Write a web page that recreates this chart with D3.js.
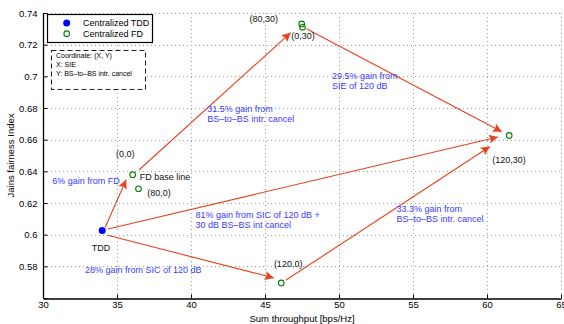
<!DOCTYPE html>
<html>
<head>
<meta charset="utf-8">
<script src="https://cdn.jsdelivr.net/npm/d3@7"></script>
<style>
  body { margin: 0; background: #fff; }
  text { font-family: "Liberation Sans", Arial, sans-serif; }
</style>
</head>
<body>
<div id="chart"></div>
<script>
// points: name, sum throughput, Jain's index
const tddPoints = [{ id: "TDD", x: 34.0, y: 0.6027 }]
const fdPoints = [
  { id: "(0,0)", x: 36.06, y: 0.6379 },
  { id: "(80,0)", x: 36.45, y: 0.629 },
  { id: "(120,0)", x: 46.1, y: 0.5695 },
  { id: "(0,30)", x: 47.53, y: 0.731 },
  { id: "(80,30)", x: 47.48, y: 0.7331 },
  { id: "(120,30)", x: 61.5, y: 0.6627 }
]
// arrows, start/end in data units
const arrows = [
  { x1: 34.2, y1: 0.6045, x2: 35.62, y2: 0.6347 },
  { x1: 36.5, y1: 0.641, x2: 46.74, y2: 0.7276 },
  { x1: 47.8, y1: 0.730, x2: 61.0, y2: 0.6650 },
  { x1: 34.4, y1: 0.6036, x2: 60.74, y2: 0.6617 },
  { x1: 34.37, y1: 0.5996, x2: 45.6, y2: 0.5727 },
  { x1: 46.4, y1: 0.5712, x2: 60.2, y2: 0.6557 }
]
// black labels next to points
const pointLabels = [
  { t: "(80,30)", x: 43.95, y: 0.7365, a: "start" },
  { t: "(0,30)", x: 46.77, y: 0.7254, a: "start" },
  { t: "(120,30)", x: 60.35, y: 0.6472, a: "start" },
  { t: "(0,0)", x: 34.93, y: 0.6512, a: "start" },
  { t: "FD base line", x: 36.53, y: 0.6366, a: "start" },
  { t: "(80,0)", x: 37.05, y: 0.6262, a: "start" },
  { t: "TDD", x: 33.3, y: 0.5914, a: "start" },
  { t: "(120,0)", x: 45.6, y: 0.5814, a: "start" }
]
// blue gain notes
const gainNotes = [
  { lines: ["6% gain from FD"], x: 35.19, y: 0.6320, a: "end" },
  { lines: ["31.5% gain from", "BS\u2013to\u2013BS intr. cancel"], x: 41.1, y: 0.6775, a: "start" },
  { lines: ["29.5% gain from", "SIE of 120 dB"], x: 49.53, y: 0.6984, a: "start" },
  { lines: ["81% gain from SIC of 120 dB +", "30 dB BS\u2013BS int cancel"], x: 40.3, y: 0.6105, a: "start" },
  { lines: ["28% gain from SIC of 120 dB"], x: 32.83, y: 0.5760, a: "start" },
  { lines: ["33.3% gain from", "BS\u2013to\u2013BS intr. cancel"], x: 53.88, y: 0.6145, a: "start" }
]
const xTicks = [30, 35, 40, 45, 50, 55, 60, 65]
const yTicks = [0.58, 0.6, 0.62, 0.64, 0.66, 0.68, 0.7, 0.72, 0.74]
const legendItems = ["Centralized TDD", "Centralized FD"]
const noteLines = ["Coordinate: (X, Y)", "X: SIE", "Y: BS\u2013to\u2013BS intr. cancel"]

const width = 564, height = 324
const margin = { top: 13, right: 3, bottom: 26, left: 43 }
const arrowColor = "#e8411e"
const blue = "#3a3aff"

const svg = d3.select("#chart").append("svg")
  .attr("width", width).attr("height", height)

const x = d3.scaleLinear().domain([30, 65]).range([margin.left, width - margin.right])
const y = d3.scaleLinear().domain([0.56, 0.74]).range([height - margin.bottom, margin.top])

svg.append("defs").append("marker")
  .attr("id", "head")
  .attr("viewBox", "0 -5 10 10")
  .attr("refX", 10).attr("refY", 0)
  .attr("markerWidth", 11).attr("markerHeight", 9)
  .attr("markerUnits", "userSpaceOnUse")
  .attr("orient", "auto")
  .append("path").attr("d", "M0,-5L10,0L0,5L2,0Z").attr("fill", arrowColor)

// grid
const grid = svg.append("g").attr("stroke", "#a0a0a0").attr("stroke-width", 1).attr("stroke-dasharray", "1,3")
grid.selectAll(".gx").data(xTicks.slice(1)).join("line")
  .attr("x1", d => Math.round(x(d)) + 0.5).attr("x2", d => Math.round(x(d)) + 0.5)
  .attr("y1", y(0.56)).attr("y2", y(0.74))
grid.selectAll(".gy").data(yTicks).join("line")
  .attr("y1", d => Math.round(y(d)) + 0.5).attr("y2", d => Math.round(y(d)) + 0.5)
  .attr("x1", x(30)).attr("x2", x(65))

// axes
const xAxis = svg.append("g")
  .attr("transform", `translate(0,${Math.round(y(0.56)) + 0.5})`)
  .call(d3.axisBottom(x).tickValues(xTicks).tickSizeInner(-4).tickSizeOuter(0).tickPadding(4))
const yAxis = svg.append("g")
  .attr("transform", `translate(${Math.round(x(30)) + 0.5},0)`)
  .call(d3.axisLeft(y).tickValues(yTicks.concat([0.56])).tickSizeInner(-4).tickSizeOuter(0).tickPadding(6)
    .tickFormat(d => d === 0.56 ? "" : d3.format("")(+d.toFixed(2))))
for (const g of [xAxis, yAxis]) {
  g.select(".domain").attr("stroke", "#000").attr("stroke-width", 1.3)
  g.selectAll(".tick line").attr("stroke", "#000")
  g.selectAll(".tick text").attr("font-size", 9.5).attr("fill", "#000")
    .attr("font-family", "Liberation Sans, Arial, sans-serif")
}
xAxis.selectAll(".tick text").attr("dy", "0.6em")
yAxis.select(".domain").attr("d", `M0,${y(0.56)}V${y(0.74)}`)

svg.append("text").attr("x", x(47.5)).attr("y", 321.5).attr("text-anchor", "middle")
  .attr("font-size", 9.5).text("Sum throughput [bps/Hz]")
svg.append("text").attr("transform", `translate(14,${y(0.65)}) rotate(-90)`)
  .attr("text-anchor", "middle").attr("font-size", 9.5).text("Jains fairness Index")

// arrows
svg.append("g").selectAll("line").data(arrows).join("line")
  .attr("x1", d => x(d.x1)).attr("y1", d => y(d.y1))
  .attr("x2", d => x(d.x2)).attr("y2", d => y(d.y2))
  .attr("stroke", arrowColor).attr("stroke-width", 1.1)
  .attr("marker-end", "url(#head)")

// points
svg.append("g").selectAll("circle").data(tddPoints).join("circle")
  .attr("cx", d => x(d.x)).attr("cy", d => y(d.y)).attr("r", 3.5).attr("fill", "#0000ff")
svg.append("g").selectAll("circle").data(fdPoints).join("circle")
  .attr("cx", d => x(d.x)).attr("cy", d => y(d.y)).attr("r", 2.8)
  .attr("fill", "none").attr("stroke", "#008000").attr("stroke-width", 1.1)

// labels
svg.append("g").selectAll("text").data(pointLabels).join("text")
  .attr("x", d => x(d.x)).attr("y", d => y(d.y)).attr("dy", "0.35em")
  .attr("text-anchor", d => d.a).attr("font-size", 9).attr("fill", "#111")
  .text(d => d.t)

const notes = svg.append("g").selectAll("text").data(gainNotes).join("text")
  .attr("x", d => x(d.x)).attr("y", d => y(d.y)).attr("dy", "0.35em")
  .attr("text-anchor", d => d.a).attr("font-size", 9).attr("fill", blue)
notes.selectAll("tspan").data(d => d.lines.map(l => ({ l, x: x(d.x) }))).join("tspan")
  .attr("x", d => d.x).attr("dy", (d, i) => i ? "1.1em" : 0).text(d => d.l)

// legend
const leg = svg.append("g")
leg.append("rect").attr("x", 47.5).attr("y", 14.5).attr("width", 105).attr("height", 28)
  .attr("fill", "#fff").attr("stroke", "#000").attr("stroke-width", 1.2)
leg.selectAll("text").data(legendItems).join("text")
  .attr("x", 83).attr("y", (d, i) => 23 + i * 10.7).attr("dy", "0.35em")
  .attr("font-size", 9).text(d => d)
leg.append("circle").attr("cx", 66.7).attr("cy", 23).attr("r", 3.5).attr("fill", "#0000ff")
leg.append("circle").attr("cx", 66.7).attr("cy", 33.7).attr("r", 2.8)
  .attr("fill", "none").attr("stroke", "#008000").attr("stroke-width", 1.1)

// coordinate note box
const nb = svg.append("g")
nb.append("rect").attr("x", 51.5).attr("y", 50.5).attr("width", 94).attr("height", 39)
  .attr("fill", "#fff").attr("stroke", "#222").attr("stroke-width", 1.1).attr("stroke-dasharray", "5,3")
nb.selectAll("text").data(noteLines).join("text")
  .attr("x", 56).attr("y", (d, i) => 56 + i * 8.6).attr("dy", "0.35em")
  .attr("font-size", 7).text(d => d)
</script>
</body>
</html>
